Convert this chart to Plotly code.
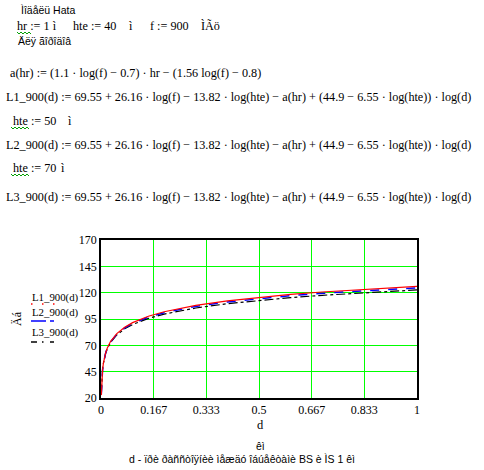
import plotly.graph_objects as go

# distance d, km
d_km = [0.001, 0.002, 0.003, 0.005, 0.0075, 0.01, 0.015, 0.02, 0.03, 0.05, 0.075,
        0.1, 0.15, 0.2, 0.25, 0.3, 0.4, 0.5, 0.6, 0.7, 0.8, 0.9, 1.0]
# path loss, dB (hte = 40, 50, 70 m)
L1_900 = [22.73, 33.09, 39.15, 46.78, 52.84, 57.14, 63.20, 67.50, 73.56, 81.19, 87.25,
          91.55, 97.60, 101.90, 105.24, 107.96, 112.26, 115.59, 118.32, 120.62, 122.62, 124.38, 125.95]
L2_900 = [23.30, 33.46, 39.41, 46.90, 52.85, 57.07, 63.02, 67.24, 73.18, 80.67, 86.62,
          90.84, 96.79, 101.01, 104.28, 106.95, 111.17, 114.45, 117.12, 119.38, 121.34, 123.07, 124.61]
L3_900 = [24.15, 34.03, 39.81, 47.09, 52.86, 56.96, 62.74, 66.84, 72.62, 79.90, 85.68,
          89.78, 95.56, 99.66, 102.84, 105.43, 109.53, 112.71, 115.31, 117.51, 119.41, 121.09, 122.59]

x_ticks = [0, 1/6, 2/6, 3/6, 4/6, 5/6, 1]
x_tick_text = ["0", "0.167", "0.333", "0.5", "0.667", "0.833", "1"]
y_ticks = [20, 45, 70, 95, 120, 145, 170]

W, H = 484, 470
L, R, T, B = 101, 417, 240, 398
PW, PH = R - L, B - T

def px(x):
    return (x - L) / PW

def py(y):
    return (B - y) / PH

SERIF = "Liberation Serif"
SANS = "Liberation Sans"

fig = go.Figure()
fig.add_trace(go.Scatter(x=d_km, y=L3_900, mode="lines",
                         line=dict(color="black", width=1.2, dash="dashdot"), name="L3_900(d)"))
fig.add_trace(go.Scatter(x=d_km, y=L2_900, mode="lines",
                         line=dict(color="#0000ff", width=1.5, dash="dash"), name="L2_900(d)"))
fig.add_trace(go.Scatter(x=d_km, y=L1_900, mode="lines",
                         line=dict(color="#ff0000", width=1.2), name="L1_900(d)"))

ann = []

def text(x, y, s, size=13, family=SERIF, anchor="left", angle=0):
    ann.append(dict(x=px(x), y=py(y), xref="paper", yref="paper", text=s, showarrow=False,
                    xanchor=anchor, yanchor="middle", textangle=angle,
                    font=dict(family=family, size=size, color="black")))

EQ = 12.2
# header texts
text(19, 10, "Ìîäåëü Hata", size=10.5, family=SANS)
text(15, 26, "hr := 1 ì", size=EQ)
text(71, 26, "hte := 40", size=EQ)
text(127, 26, "ì", size=EQ)
text(148, 26, "f := 900", size=EQ)
text(199, 26, "ÌÃö", size=EQ)
text(16, 41, "Äëÿ ãîðîäîâ", size=10.5, family=SANS)

text(8, 73, "a(hr) := (1.1 · log(f) − 0.7) · hr − (1.56 log(f) − 0.8)", size=EQ)
eq = "_900(d) := 69.55 + 26.16 · log(f) − 13.82 · log(hte) − a(hr) + (44.9 − 6.55 · log(hte)) · log(d)"
text(4, 97, "L1" + eq, size=EQ)
text(11, 121, "hte := 50", size=EQ)
text(66, 121, "ì", size=EQ)
text(4, 145, "L2" + eq, size=EQ)
text(11, 168, "hte := 70", size=EQ)
text(59, 168, "ì", size=EQ)
text(4, 197, "L3" + eq, size=EQ)

# legend & axis titles
text(30, 297, "L1_900(d)", size=10.8)
text(30, 312, "L2_900(d)", size=10.8)
text(30, 332, "L3_900(d)", size=10.8)
text(17, 319, "Äá", size=12, anchor="center", angle=-90)
text(260, 425, "d", size=12.5, anchor="center")
text(260, 446, "êì", size=10.5, family=SANS, anchor="center")
text(242, 459, "d - ïðè ðàññòîÿíèè ìåæäó îáúåêòàìè BS è ÌS 1 êì", size=10.5, family=SANS, anchor="center")

shapes = []

def seg(x0, y0, x1, y1, color, dash="solid", width=1.5):
    shapes.append(dict(type="line", xref="paper", yref="paper", x0=px(x0), y0=py(y0),
                       x1=px(x1), y1=py(y1), line=dict(color=color, width=width, dash=dash)))

# legend samples
for xx in (31, 42, 53):
    seg(xx, 304, xx + 1.5, 304, "#ff0000", width=1.5)
seg(31, 321, 46, 321, "#0000ff")
seg(50, 321, 54, 321, "#0000ff")
seg(31, 342, 37, 342, "black")
seg(42, 342, 43.5, 342, "black")
seg(50, 342, 54, 342, "black")

# green wavy underlines
def squiggle(x0, x1, y):
    pts = []
    x = x0
    up = True
    while x <= x1:
        pts.append((px(x), py(y - 1 if up else y + 1)))
        up = not up
        x += 2
    path = "M " + " L ".join(f"{a:.5f},{b:.5f}" for a, b in pts)
    shapes.append(dict(type="path", xref="paper", yref="paper", path=path,
                       line=dict(color="#00a000", width=1)))

squiggle(17, 31, 33)
squiggle(11, 29, 128)
squiggle(11, 29, 175)

fig.update_layout(
    width=W, height=H,
    margin=dict(l=L, r=W - R, t=T, b=H - B, pad=0, autoexpand=False),
    paper_bgcolor="white", plot_bgcolor="white",
    showlegend=False,
    annotations=ann, shapes=shapes,
    xaxis=dict(range=[0, 1], tickvals=x_ticks, ticktext=x_tick_text,
               showgrid=True, gridcolor="#00ff00", gridwidth=1.4,
               showline=True, linecolor="black", linewidth=1.5, mirror=True,
               ticks="", zeroline=False, ticklabelstandoff=0,
               tickfont=dict(family=SERIF, size=12, color="black")),
    yaxis=dict(range=[20, 170], tickvals=y_ticks,
               showgrid=True, gridcolor="#00ff00", gridwidth=1.4,
               showline=True, linecolor="black", linewidth=1.5, mirror=True,
               ticks="", zeroline=False, ticklabelstandoff=0,
               tickfont=dict(family=SERIF, size=12, color="black")),
)

fig.write_html("out.html", config={"displayModeBar": False},
               post_script="document.body.style.margin='0';document.body.style.overflow='hidden';")
